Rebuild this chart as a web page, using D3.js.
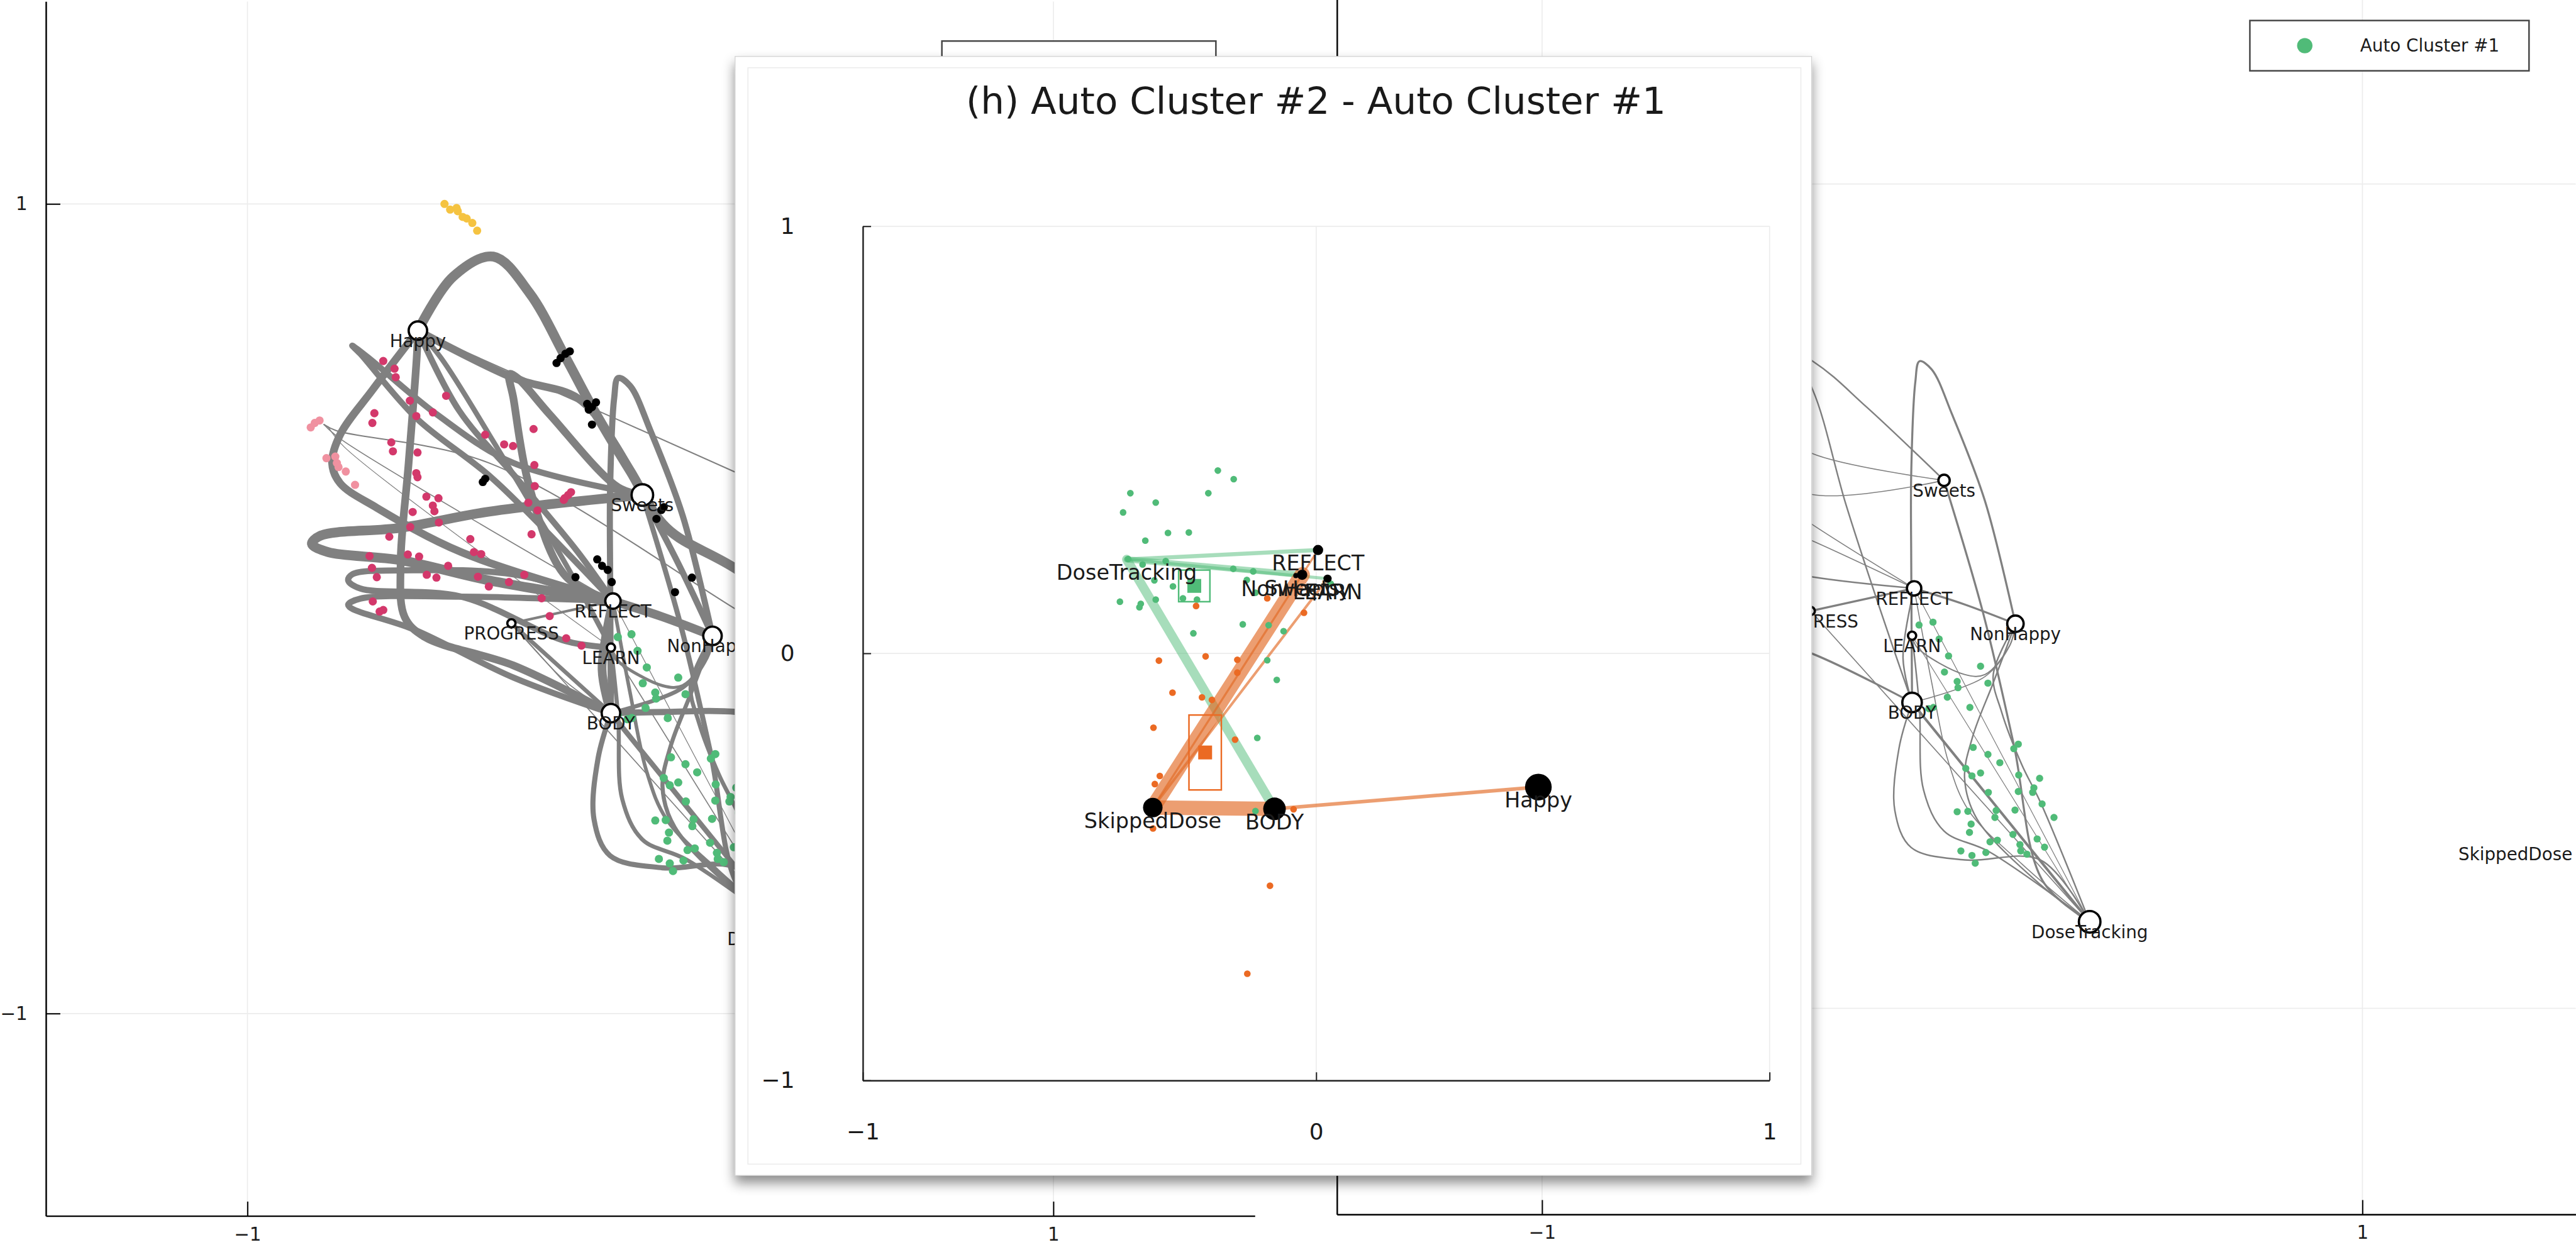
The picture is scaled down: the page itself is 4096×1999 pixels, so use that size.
<!DOCTYPE html>
<html>
<head>
<meta charset="utf-8">
<script src="https://cdn.jsdelivr.net/npm/d3@7"></script>
<style>
  body { margin: 0; background: #fff; }
  svg { display: block; }
  text { font-family: "DejaVu Sans", sans-serif; fill: #1a1a1a; }
</style>
</head>
<body>
<div id="chart"></div>
<script>
// ---------- shared graph layout of the two background panels ----------
const nodeNames = ["Happy", "Sweets", "REFLECT", "PROGRESS", "LEARN", "NonHappy", "BODY", "DoseTracking", "SkippedDose"];
const nodeX = [-0.577, -0.02, -0.093, -0.345, -0.098, 0.154, -0.098, 0.335, 1.373];
const nodeY = [0.687, 0.281, 0.019, -0.036, -0.096, -0.067, -0.258, -0.79, -0.601];
const nodeSizeAll = [18, 21, 15, 8, 8, 18, 18, 20, 14];
const nodeSizeC1 = [18, 11, 14, 8, 8, 16, 19, 21, 0];
const tickValues = [-1, 1];

// edge routes (node names or waypoints in data units)
const edgePaths = [
  ["Happy", [-0.49, 0.82], [-0.39, 0.87], [-0.30, 0.78], [-0.21, 0.62], [-0.14, 0.49], [-0.05, 0.34], [0.04, 0.20], [0.21, 0.10], [0.68, -0.21], "SkippedDose"],
  ["Happy", [-0.34, 0.57], [-0.18, 0.52], [-0.09, 0.41], "Sweets"],
  ["Happy", [-0.58, 0.62], [-0.60, 0.36], [-0.62, 0.11], [-0.61, -0.02], [-0.56, -0.07], [-0.34, -0.14], "BODY"],
  ["Happy", [-0.69, 0.54], [-0.77, 0.43], [-0.79, 0.36], [-0.77, 0.31], [-0.68, 0.25], [-0.47, 0.14], "REFLECT"],
  ["Sweets", [-0.40, 0.24], [-0.62, 0.20], [-0.82, 0.18], [-0.84, 0.16], [-0.80, 0.14], [-0.62, 0.12], [-0.40, 0.07], "REFLECT"],
  ["REFLECT", [-0.34, 0.085], [-0.59, 0.095], [-0.74, 0.085], [-0.75, 0.07], [-0.72, 0.05], [-0.47, 0.03], [-0.21, -0.08], "LEARN"],
  ["BODY", [-0.34, -0.17], [-0.59, -0.05], [-0.74, 0.0], [-0.75, 0.01], [-0.72, 0.025], [-0.47, 0.03], "REFLECT"],
  ["REFLECT", [-0.39, 0.32], [-0.58, 0.47], [-0.72, 0.63], [-0.74, 0.65], [-0.70, 0.62], [-0.53, 0.48], [-0.34, 0.36], "Sweets"],
  ["REFLECT", [-0.21, 0.08], [-0.30, 0.30], [-0.34, 0.52], [-0.35, 0.58], [-0.33, 0.57], [-0.25, 0.48], [-0.08, 0.30], "Sweets"],
  ["BODY", [-0.10, 0.08], [-0.10, 0.30], [-0.09, 0.52], [-0.08, 0.57], [-0.05, 0.55], [0.0, 0.44], [0.08, 0.23], "NonHappy"],
  ["REFLECT", [0.03, -0.02], "NonHappy"],
  ["Sweets", [0.07, 0.11], "NonHappy"],
  ["Sweets", [0.075, -0.04], [0.15, -0.36], [0.22, -0.69], "DoseTracking"],
  ["BODY", [0.04, -0.255], [0.215, -0.255], [0.68, -0.33], "SkippedDose"],
  ["BODY", [-0.13, -0.37], [-0.14, -0.52], [-0.10, -0.61], [0.03, -0.64], [0.215, -0.64], "DoseTracking"],
  ["LEARN", [-0.08, -0.27], [-0.07, -0.47], [-0.02, -0.57], [0.09, -0.62], "DoseTracking"],
  ["REFLECT", [-0.05, -0.21], [-0.01, -0.40], [0.04, -0.52], [0.17, -0.65], "DoseTracking"],
  ["BODY", [0.08, -0.195], [0.14, -0.12], "NonHappy"],
  ["NonHappy", [0.10, -0.21], [0.05, -0.34], [0.03, -0.44], [0.06, -0.54], [0.215, -0.70], "DoseTracking"],
  ["NonHappy", [0.10, -0.19], [0.12, -0.28], [0.17, -0.41], [0.215, -0.50], "DoseTracking"],
  ["REFLECT", [-0.12, -0.15], "BODY"],
  ["Happy", [-0.475, 0.49], [-0.33, 0.32], [-0.18, 0.14], "REFLECT"],
  ["Happy", [-0.52, 0.62], [-0.40, 0.43], [-0.21, 0.11], "LEARN"],
  ["PROGRESS", "BODY"],
  ["LEARN", [-0.085, -0.125], [0.03, -0.19], [0.08, -0.19], [0.14, -0.12], "NonHappy"],
  [[-0.81, 0.455], [-0.78, 0.44], [-0.40, 0.36], [0.21, 0.0], [0.6, -0.25]],
  [[-0.81, 0.455], [-0.77, 0.42], "REFLECT"],
  [[-0.80, 0.45], [-0.76, 0.40], "LEARN"],
  ["Happy", [0.205, 0.34], [1.44, -0.21]],
  ["PROGRESS", [-0.21, -0.18], "BODY"],
  ["Happy", [-0.34, 0.57], [-0.21, 0.46], "Sweets"],
  ["Happy", [-0.40, 0.60], [-0.34, 0.50], [-0.26, 0.225], [-0.18, -0.02], "BODY"],
  ["Happy", [-0.45, 0.42], [-0.343, 0.347], "Sweets"],
  ["Happy", [-0.55, 0.35], [-0.343, 0.247], "Sweets"],
  ["Happy", [-0.45, 0.25], [-0.343, 0.175], "REFLECT"],
  ["Happy", [-0.50, 0.20], [-0.343, 0.135], "REFLECT"],
  ["Happy", [-0.60, 0.10], [-0.343, 0.047], "REFLECT"],
  ["PROGRESS", "REFLECT"],
  ["BODY", "DoseTracking"],
  ["PROGRESS", "DoseTracking"],
  ["LEARN", "DoseTracking"],
  ["REFLECT", "DoseTracking"]
];
const edgeWidthAll = [19, 15, 15, 15, 19, 12, 12, 12, 15, 12, 17, 12, 10, 12, 10, 8, 7, 8, 8, 8, 17, 12, 10, 8, 6,
  2.5, 2, 1.5, 2.5, 2, 0, 0, 0, 0, 0, 0, 0, 5, 10, 2, 2, 1.5];
const edgeWidthC1 = [0, 0, 4, 0, 0, 0, 0, 0, 0, 4, 4, 0, 4, 0, 3, 3, 2, 2, 3, 3, 3, 0, 0, 0, 2.5,
  0, 0, 0, 0, 0, 3, 3, 2, 2, 2, 2, 3, 4, 5, 2, 1.5, 1.5];

// observations per cluster (background panels)
const clusterGreen = [[-0.081, -0.070], [-0.047, -0.063], [-0.032, -0.104], [-0.009, -0.145], [-0.019, -0.184], [0.012, -0.207],
  [0.014, -0.222], [0.069, -0.170], [0.087, -0.211], [-0.012, -0.245], [-0.081, -0.262], [-0.057, -0.273], [-0.046, -0.270],
  [0.043, -0.270], [0.051, -0.367], [0.087, -0.384], [0.116, -0.404], [0.150, -0.370], [0.161, -0.359], [0.033, -0.418],
  [0.048, -0.436], [0.069, -0.429], [0.162, -0.434], [0.213, -0.442], [0.088, -0.476], [0.161, -0.474], [0.199, -0.465],
  [0.196, -0.476], [0.219, -0.504], [0.248, -0.537], [0.012, -0.523], [0.038, -0.522], [0.107, -0.520], [0.104, -0.537],
  [0.153, -0.519], [0.046, -0.553], [0.042, -0.573], [0.092, -0.596], [0.110, -0.592], [0.148, -0.578], [0.165, -0.603],
  [0.182, -0.626], [0.207, -0.589], [0.225, -0.609], [0.021, -0.618], [0.048, -0.629], [0.056, -0.648], [0.082, -0.622],
  [0.167, -0.618]];
const clusterCrimson = [[-0.663, 0.612], [-0.635, 0.593], [-0.632, 0.572], [-0.597, 0.514], [-0.507, 0.526], [-0.685, 0.483],
  [-0.690, 0.459], [-0.581, 0.476], [-0.540, 0.485], [-0.290, 0.444], [-0.410, 0.430], [-0.363, 0.406], [-0.341, 0.402],
  [-0.643, 0.411], [-0.639, 0.389], [-0.578, 0.386], [-0.288, 0.355], [-0.581, 0.335], [-0.578, 0.325], [-0.287, 0.303],
  [-0.556, 0.277], [-0.526, 0.273], [-0.540, 0.255], [-0.536, 0.241], [-0.590, 0.239], [-0.204, 0.281], [-0.213, 0.273],
  [-0.197, 0.288], [-0.215, 0.269], [-0.303, 0.262], [-0.280, 0.243], [-0.525, 0.213], [-0.596, 0.202], [-0.648, 0.178],
  [-0.295, 0.184], [-0.447, 0.172], [-0.438, 0.140], [-0.420, 0.135], [-0.697, 0.130], [-0.602, 0.134], [-0.574, 0.129],
  [-0.691, 0.101], [-0.679, 0.078], [-0.502, 0.106], [-0.555, 0.084], [-0.531, 0.077], [-0.428, 0.079], [-0.401, 0.055],
  [-0.351, 0.066], [-0.313, 0.084], [-0.270, 0.026], [-0.689, 0.018], [-0.672, -0.007], [-0.663, -0.003], [-0.250, -0.018],
  [-0.209, -0.073], [-0.171, -0.091]];
const clusterPink = [[-0.843, 0.448], [-0.833, 0.459], [-0.821, 0.465], [-0.804, 0.372], [-0.782, 0.376], [-0.778, 0.360],
  [-0.774, 0.350], [-0.756, 0.339], [-0.733, 0.306]];
const clusterYellow = [[-0.511, 1.0], [-0.497, 0.986], [-0.481, 0.990], [-0.478, 0.982], [-0.466, 0.968], [-0.456, 0.964],
  [-0.442, 0.953], [-0.430, 0.934]];
const clusterBlack = [[-0.233, 0.607], [-0.223, 0.619], [-0.211, 0.630], [-0.200, 0.636], [-0.157, 0.506], [-0.145, 0.498],
  [-0.135, 0.510], [-0.153, 0.492], [-0.145, 0.455], [-0.416, 0.313], [-0.410, 0.321], [0.015, 0.222], [0.027, 0.244],
  [0.033, 0.251], [-0.132, 0.122], [-0.120, 0.106], [-0.106, 0.096], [-0.096, 0.066], [-0.186, 0.078], [0.103, 0.077],
  [0.061, 0.041]];

// ---------- inset (h): cluster #2 minus cluster #1 ----------
const insetTitle = "(h) Auto Cluster #2 - Auto Cluster #1";
const insetTicks = [-1, 0, 1];
const insetNodeNames = ["SkippedDose", "BODY", "Happy", "REFLECT", "Sweets", "LEARN", "NonHappy", "DoseTracking"];
const insetNodeX = [-0.3605, -0.092, 0.490, 0.004, -0.031, 0.025, -0.045, -0.418];
const insetNodeY = [-0.361, -0.364, -0.313, 0.242, 0.184, 0.175, 0.182, 0.220];
const insetNodeR = [19, 22, 26, 10, 10, 8, 5, 0];
const insetEdgesC1 = [["DoseTracking", "REFLECT", 8], ["DoseTracking", "Sweets", 12], ["DoseTracking", "LEARN", 6], ["DoseTracking", "BODY", 18]];
const insetEdgesC2 = [["SkippedDose", "BODY", 28], ["SkippedDose", "Sweets", 30], ["SkippedDose", "LEARN", 5], ["SkippedDose", "REFLECT", 4], ["BODY", "Happy", 7]];
const insetPtsC1 = [[-0.217, 0.428], [-0.182, 0.408], [-0.410, 0.375], [-0.238, 0.375], [-0.354, 0.353], [-0.426, 0.330],
  [-0.327, 0.282], [-0.281, 0.283], [-0.377, 0.264], [-0.415, 0.221], [-0.383, 0.208], [-0.332, 0.216], [-0.183, 0.198],
  [-0.139, 0.192], [-0.357, 0.171], [-0.316, 0.157], [-0.153, 0.172], [-0.134, 0.142], [-0.433, 0.121], [-0.390, 0.108],
  [-0.387, 0.116], [-0.354, 0.126], [-0.294, 0.129], [-0.263, 0.126], [-0.162, 0.068], [-0.105, 0.066], [-0.072, 0.052],
  [-0.271, 0.047], [-0.108, -0.016], [-0.087, -0.062], [-0.130, -0.198], [-0.134, -0.369], [0.032, 0.163]];
const insetPtsC2 = [[-0.265, 0.111], [-0.108, 0.129], [-0.027, 0.095], [-0.244, -0.007], [-0.347, -0.017], [-0.174, -0.015],
  [-0.174, -0.045], [-0.317, -0.092], [-0.252, -0.103], [-0.230, -0.109], [-0.359, -0.174], [-0.179, -0.202], [-0.345, -0.287],
  [-0.356, -0.306], [-0.050, -0.365], [-0.360, -0.410], [-0.102, -0.544], [-0.152, -0.750]];
const insetMeanC1 = [-0.269, 0.158], insetSdC1 = [0.0345, 0.037];
const insetMeanC2 = [-0.245, -0.232], insetSdC2 = [0.0357, 0.0877];

const GREEN = "#50bb78", ORANGE = "#eb6a23", GRAY = "#808080";
const fmt = d3.format("d");

// ---------- svg ----------
const W = 5019, H = 2450;
const svg = d3.select("#chart").append("svg")
  .attr("width", 4096).attr("height", 1999)
  .attr("viewBox", `0 0 ${W} ${H}`);
const defs = svg.append("defs");

function drawPanel(cfg) {
  const x = d3.scaleLinear().domain(cfg.xDomain).range(cfg.xRange);
  const y = d3.scaleLinear().domain([-1.5, 1.5]).range(cfg.yRange);
  const g = svg.append("g");
  const top = Math.max(0, cfg.yRange[1]);

  // grid lines at the ticks
  const grid = g.append("g").attr("stroke", "#ececec").attr("stroke-width", 2);
  tickValues.forEach(v => {
    grid.append("line").attr("x1", x(v)).attr("x2", x(v)).attr("y1", top).attr("y2", cfg.yRange[0]);
    grid.append("line").attr("x1", cfg.xRange[0]).attr("x2", cfg.xRange[1]).attr("y1", y(v)).attr("y2", y(v));
  });

  defs.append("clipPath").attr("id", cfg.id).append("rect")
    .attr("x", cfg.xRange[0]).attr("y", 0)
    .attr("width", cfg.xRange[1] - cfg.xRange[0]).attr("height", cfg.yRange[0]);
  const plot = g.append("g").attr("clip-path", `url(#${cfg.id})`);

  const pos = p => {
    if (typeof p !== "string") return p;
    const i = nodeNames.indexOf(p);
    return [nodeX[i], nodeY[i]];
  };
  const line = d3.line().x(p => x(p[0])).y(p => y(p[1])).curve(d3.curveCatmullRom.alpha(0.5));

  plot.append("g").selectAll("path")
    .data(edgePaths.map((pts, i) => ({ pts: pts.map(pos), w: cfg.widths[i] })).filter(d => d.w > 0))
    .join("path")
    .attr("d", d => line(d.pts))
    .attr("fill", "none")
    .attr("stroke", GRAY)
    .attr("stroke-width", d => d.w)
    .attr("stroke-linecap", "round");

  cfg.clusters.forEach(c => {
    plot.append("g").selectAll("circle").data(c.pts).join("circle")
      .attr("cx", d => x(d[0])).attr("cy", d => y(d[1]))
      .attr("r", cfg.dotR).attr("fill", c.color);
  });

  const nodes = nodeNames.map((n, i) => ({ name: n, x: nodeX[i], y: nodeY[i], r: cfg.sizes[i] }));
  plot.append("g").selectAll("circle").data(nodes.filter(d => d.r > 0)).join("circle")
    .attr("cx", d => x(d.x)).attr("cy", d => y(d.y)).attr("r", d => d.r)
    .attr("fill", "#fff").attr("stroke", "#000").attr("stroke-width", 4.5);
  plot.append("g").selectAll("text").data(nodes).join("text")
    .attr("x", d => x(d.x)).attr("y", d => y(d.y) + 32)
    .attr("text-anchor", "middle").attr("font-size", 34)
    .text(d => d.name);

  // axes
  const xAxis = g.append("g").attr("transform", `translate(0,${cfg.yRange[0]})`)
    .call(d3.axisBottom(x).tickValues(tickValues).tickFormat(fmt).tickSizeInner(-28).tickSizeOuter(0).tickPadding(22));
  const yAxis = g.append("g").attr("transform", `translate(${cfg.xRange[0]},0)`)
    .call(d3.axisLeft(y).tickValues(tickValues).tickFormat(fmt).tickSizeInner(-28).tickSizeOuter(0).tickPadding(36));
  [xAxis, yAxis].forEach(a => {
    a.attr("font-size", 36).attr("font-family", "DejaVu Sans");
    a.select(".domain").attr("stroke", "#000").attr("stroke-width", 3);
    a.selectAll(".tick line").attr("stroke", "#000").attr("stroke-width", 2.5);
  });
  return g;
}

// left panel: all clusters
const left = drawPanel({
  id: "clipLeft", xDomain: [-1.5, 1.5], xRange: [89, 2445], yRange: [2370, 3],
  widths: edgeWidthAll, sizes: nodeSizeAll, dotR: 8,
  clusters: [
    { pts: clusterCrimson, color: "#d3386b" },
    { pts: clusterPink, color: "#f091a0" },
    { pts: clusterYellow, color: "#f5c341" },
    { pts: clusterBlack, color: "#000" },
    { pts: clusterGreen, color: GREEN }
  ]
});
// left legend box (covered by the inset)
left.append("rect").attr("x", 1835).attr("y", 80).attr("width", 534).attr("height", 300)
  .attr("fill", "#fff").attr("stroke", "#444").attr("stroke-width", 3);

// right panel: cluster #1 only
const right = drawPanel({
  id: "clipRight", xDomain: [-1.5, 1.52], xRange: [2605, 5019], yRange: [2367, -43],
  widths: edgeWidthC1, sizes: nodeSizeC1, dotR: 7,
  clusters: [{ pts: clusterGreen, color: GREEN }]
});
const legend = right.append("g");
legend.append("rect").attr("x", 4384).attr("y", 40).attr("width", 544).attr("height", 98)
  .attr("fill", "#fff").attr("stroke", "#444").attr("stroke-width", 3);
legend.append("circle").attr("cx", 4491).attr("cy", 89).attr("r", 15).attr("fill", GREEN);
legend.append("text").attr("x", 4599).attr("y", 101).attr("font-size", 34).text("Auto Cluster #1");

// ---------- inset card ----------
const shadow = defs.append("filter").attr("id", "cardShadow")
  .attr("x", "-5%").attr("y", "-5%").attr("width", "110%").attr("height", "112%");
shadow.append("feDropShadow").attr("dx", 0).attr("dy", 14).attr("stdDeviation", 12)
  .attr("flood-color", "#000").attr("flood-opacity", 0.45);

const card = svg.append("g");
card.append("rect").attr("x", 1432).attr("y", 110).attr("width", 2098).attr("height", 2181)
  .attr("fill", "#fff").attr("stroke", "#d0d0d0").attr("stroke-width", 1.5)
  .attr("filter", "url(#cardShadow)");
card.append("rect").attr("x", 1457).attr("y", 132).attr("width", 2052).attr("height", 2137)
  .attr("fill", "none").attr("stroke", "#ececec").attr("stroke-width", 2);

card.append("text").attr("x", 2564).attr("y", 222)
  .attr("text-anchor", "middle").attr("font-size", 73)
  .text(insetTitle);

const cx = d3.scaleLinear().domain([-1, 1]).range([1681, 3448]);
const cy = d3.scaleLinear().domain([-1, 1]).range([2106, 441]);

const cgrid = card.append("g").attr("stroke", "#ececec").attr("stroke-width", 2);
insetTicks.forEach(v => {
  cgrid.append("line").attr("x1", cx(v)).attr("x2", cx(v)).attr("y1", cy(1)).attr("y2", cy(-1));
  cgrid.append("line").attr("x1", cx(-1)).attr("x2", cx(1)).attr("y1", cy(v)).attr("y2", cy(v));
});

const cxAxis = card.append("g").attr("transform", `translate(0,${cy(-1)})`)
  .call(d3.axisBottom(cx).tickValues(insetTicks).tickFormat(fmt).tickSizeInner(-16).tickSizeOuter(0).tickPadding(84));
const cyAxis = card.append("g").attr("transform", `translate(${cx(-1)},0)`)
  .call(d3.axisLeft(cy).tickValues(insetTicks).tickFormat(fmt).tickSizeInner(-16).tickSizeOuter(0).tickPadding(133));
[cxAxis, cyAxis].forEach(a => {
  a.attr("font-size", 44).attr("font-family", "DejaVu Sans");
  a.select(".domain").attr("stroke", "#222").attr("stroke-width", 3);
  a.selectAll(".tick line").attr("stroke", "#222").attr("stroke-width", 2.5);
});

const insetPos = name => {
  const i = insetNodeNames.indexOf(name);
  return [cx(insetNodeX[i]), cy(insetNodeY[i])];
};
function drawInsetEdges(list, color, opacity) {
  card.append("g").selectAll("line").data(list).join("line")
    .attr("x1", d => insetPos(d[0])[0]).attr("y1", d => insetPos(d[0])[1])
    .attr("x2", d => insetPos(d[1])[0]).attr("y2", d => insetPos(d[1])[1])
    .attr("stroke", color).attr("stroke-opacity", opacity)
    .attr("stroke-width", d => d[2]).attr("stroke-linecap", "round");
}
drawInsetEdges(insetEdgesC1, GREEN, 0.5);
drawInsetEdges(insetEdgesC2, "#e26a25", 0.65);

function drawInsetPoints(pts, color) {
  card.append("g").selectAll("circle").data(pts).join("circle")
    .attr("cx", d => cx(d[0])).attr("cy", d => cy(d[1])).attr("r", 6.5).attr("fill", color);
}
drawInsetPoints(insetPtsC1, GREEN);
drawInsetPoints(insetPtsC2, ORANGE);

function drawMean(mean, sd, color) {
  card.append("rect")
    .attr("x", cx(mean[0] - sd[0])).attr("y", cy(mean[1] + sd[1]))
    .attr("width", cx(mean[0] + sd[0]) - cx(mean[0] - sd[0]))
    .attr("height", cy(mean[1] - sd[1]) - cy(mean[1] + sd[1]))
    .attr("fill", "none").attr("stroke", color).attr("stroke-width", 3);
  card.append("rect")
    .attr("x", cx(mean[0]) - 13.5).attr("y", cy(mean[1]) - 13.5)
    .attr("width", 27).attr("height", 27).attr("fill", color);
}
drawMean(insetMeanC1, insetSdC1, GREEN);
drawMean(insetMeanC2, insetSdC2, ORANGE);

const insetNodes = insetNodeNames.map((n, i) => ({ name: n, x: insetNodeX[i], y: insetNodeY[i], r: insetNodeR[i] }));
card.append("g").selectAll("circle").data(insetNodes.filter(d => d.r > 0)).join("circle")
  .attr("cx", d => cx(d.x)).attr("cy", d => cy(d.y)).attr("r", d => d.r).attr("fill", "#000");
card.append("g").selectAll("text").data(insetNodes).join("text")
  .attr("x", d => cx(d.x)).attr("y", d => cy(d.y) + 40)
  .attr("text-anchor", "middle").attr("font-size", 41)
  .text(d => d.name);
</script>
</body>
</html>
